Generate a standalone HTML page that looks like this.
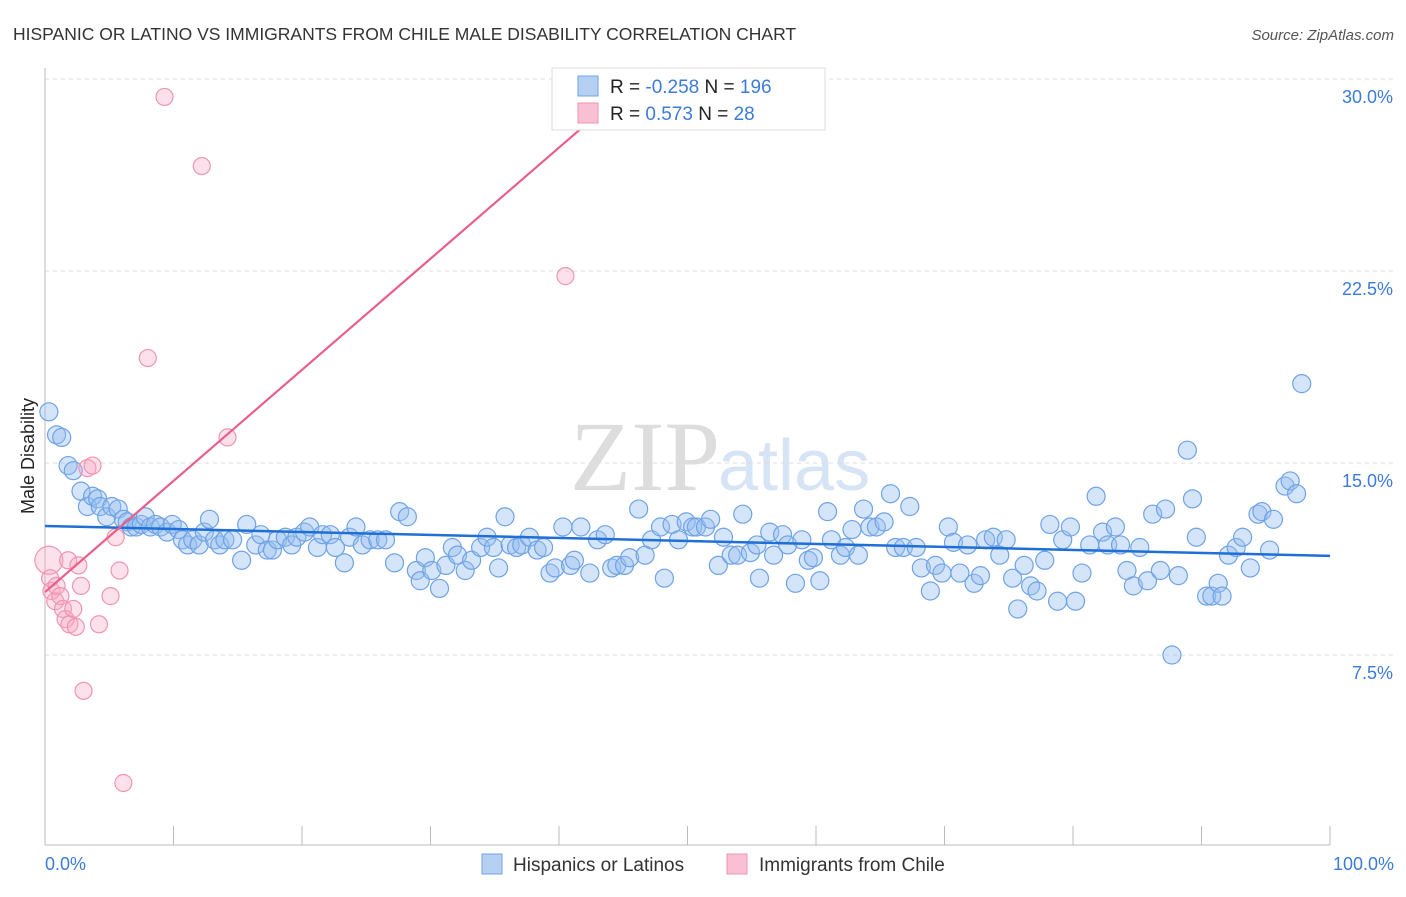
<!DOCTYPE html>
<html><head><meta charset="utf-8"><style>
body{margin:0;background:#fff;font-family:"Liberation Sans",sans-serif;}
</style></head><body>
<svg width="1406" height="892" viewBox="0 0 1406 892">
<text x="13" y="40" font-size="17.5" fill="#333">HISPANIC OR LATINO VS IMMIGRANTS FROM CHILE MALE DISABILITY CORRELATION CHART</text>
<text x="1394" y="40" font-size="15" fill="#555" font-style="italic" text-anchor="end">Source: ZipAtlas.com</text>
<text x="720" y="490" font-size="100" fill="#ddd" font-family="Liberation Serif" text-anchor="end">ZIP</text>
<text x="718" y="490" font-size="72" fill="#d6e4f5">atlas</text>
<g id="grid"></g>
<g id="axes"></g>
<g id="marks"></g>
<text transform="translate(34,456) rotate(-90)" font-size="18" fill="#222" text-anchor="middle">Male Disability</text>
<text x="45" y="870" font-size="18" fill="#3d7bd9">0.0%</text>
<text x="1394" y="870" font-size="18" fill="#3d7bd9" text-anchor="end">100.0%</text>
<g>
<rect x="552" y="68" width="273" height="62" fill="#fff" stroke="#ddd"/>
<rect x="578" y="76" width="20" height="20" fill="#b5d0f3" stroke="#6fa3e6"/>
<rect x="578" y="103" width="20" height="20" fill="#f8c0d2" stroke="#ee95b3"/>
<text x="610" y="93" font-size="19" fill="#222">R = <tspan fill="#3d7bd9">-0.258</tspan>   N = <tspan fill="#3d7bd9">196</tspan></text>
<text x="610" y="120" font-size="19" fill="#222">R =   <tspan fill="#3d7bd9">0.573</tspan>   N =   <tspan fill="#3d7bd9">28</tspan></text>
</g>
<g>
<rect x="482" y="854" width="20" height="20" fill="#b5d0f3" stroke="#6fa3e6"/>
<text x="513" y="871" font-size="19" fill="#333">Hispanics or Latinos</text>
<rect x="727" y="854" width="20" height="20" fill="#f8c0d2" stroke="#ee95b3"/>
<text x="759" y="871" font-size="19" fill="#333">Immigrants from Chile</text>
</g>
</svg>
<script>
const yTicks=[7.5,15,22.5,30];
const yTickLabels=["7.5%","15.0%","22.5%","30.0%"];
const xTicks=[0,10,20,30,40,50,60,70,80,90,100];
const blueX=[.3,.9,1.3,1.8,2.2,2.8,3.3,3.7,4.1,4.3,4.8,5.2,5.7,6.1,6.4,6.7,7.1,7.5,7.8,8.2,8.6,9.0,9.5,9.9,10.4,10.7,11.1,11.5,12.0,12.4,12.8,13.2,13.6,14.0,14.6,15.3,15.7,16.4,16.8,17.3,17.7,18.1,18.7,19.2,19.6,20.2,20.6,21.2,21.6,22.2,22.6,23.3,23.7,24.2,24.7,25.3,25.9,26.5,27.2,27.6,28.2,28.9,29.2,29.6,30.1,30.7,31.2,31.7,32.1,32.7,33.2,33.9,34.4,34.9,35.3,35.8,36.2,36.7,37.1,37.7,38.3,38.8,39.3,39.7,40.3,40.9,41.2,41.7,42.4,43.0,43.6,44.1,44.5,45.1,45.5,46.2,46.7,47.2,47.9,48.2,48.8,49.3,49.9,50.4,50.7,51.4,51.8,52.4,52.8,53.4,53.9,54.3,54.9,55.4,55.6,56.4,56.7,57.4,57.8,58.4,58.9,59.4,59.8,60.3,60.9,61.2,61.9,62.3,62.8,63.3,63.7,64.2,64.7,65.3,65.8,66.2,66.8,67.3,67.8,68.2,68.9,69.3,69.8,70.3,70.7,71.2,71.8,72.3,72.8,73.2,73.8,74.3,74.8,75.3,75.7,76.2,76.7,77.2,77.8,78.2,78.8,79.2,79.8,80.2,80.7,81.3,81.8,82.3,82.7,83.3,83.7,84.2,84.7,85.2,85.8,86.2,86.8,87.2,87.7,88.2,88.9,89.3,89.6,90.4,90.8,91.3,91.6,92.1,92.7,93.2,93.8,94.4,94.7,95.3,95.6,96.5,96.9,97.4,97.8];
const blueY=[17.0,16.1,16.0,14.9,14.7,13.9,13.3,13.7,13.6,13.3,12.9,13.3,13.2,12.8,12.7,12.5,12.5,12.6,12.9,12.5,12.6,12.5,12.3,12.6,12.4,12.0,11.8,12.0,11.8,12.3,12.8,12.0,11.8,12.0,12.0,11.2,12.6,11.8,12.2,11.6,11.6,12.0,12.1,11.8,12.1,12.3,12.5,11.7,12.2,12.2,11.7,11.1,12.1,12.5,11.8,12.0,12.0,12.0,11.1,13.1,12.9,10.8,10.4,11.3,10.8,10.1,11.0,11.7,11.4,10.8,11.2,11.7,12.1,11.7,10.9,12.9,11.8,11.7,11.8,12.1,11.6,11.7,10.7,10.9,12.5,11.0,11.2,12.5,10.7,12.0,12.2,10.9,11.0,11.0,11.3,13.2,11.4,12.0,12.5,10.5,12.6,12.0,12.7,12.5,12.5,12.5,12.8,11.0,12.1,11.4,11.4,13.0,11.5,11.8,10.5,12.3,11.4,12.2,11.8,10.3,12.0,11.2,11.3,10.4,13.1,12.0,11.4,11.7,12.4,11.4,13.2,12.5,12.5,12.7,13.8,11.7,11.7,13.3,11.7,10.9,10.0,11.0,10.7,12.5,11.9,10.7,11.8,10.3,10.6,12.0,12.1,11.4,12.0,10.5,9.3,11.0,10.2,10.0,11.2,12.6,9.6,12.0,12.5,9.6,10.7,11.8,13.7,12.3,11.8,12.5,11.8,10.8,10.2,11.7,10.4,13.0,10.8,13.2,7.5,10.6,15.5,13.6,12.1,9.8,9.8,10.3,9.8,11.4,11.7,12.1,10.9,13.0,13.1,11.6,12.8,14.1,14.3,13.8,18.1];
const pinkX=[.3,.4,.5,.8,.9,1.2,1.4,1.6,1.8,1.9,2.2,2.4,2.6,2.8,3.0,3.3,3.7,4.2,5.1,5.5,5.8,6.1,8.0,9.3,12.2,14.2,40.5];
const pinkY=[11.2,10.5,10.0,9.6,10.2,9.8,9.3,8.9,11.2,8.7,9.3,8.6,11.0,10.2,6.1,14.8,14.9,8.7,9.8,12.1,10.8,2.5,19.1,29.3,26.6,16.0,22.3];
const blueFit=[12.54,-0.0117];
const pinkFit=[9.96,0.434];
const NS='http://www.w3.org/2000/svg';
const X0=45,X1=1330,Y0=847,PPY=25.6;
const sx=v=>X0+(X1-X0)*v/100, sy=v=>Y0-v*PPY;
function mk(tag,attrs,parent){const e=document.createElementNS(NS,tag);for(const k in attrs)e.setAttribute(k,attrs[k]);parent.appendChild(e);return e;}
const grid=document.getElementById('grid'),axes=document.getElementById('axes'),marks=document.getElementById('marks');
yTicks.forEach((t,i)=>{
 const l=mk('line',{x1:X0,x2:1394,y1:sy(t),y2:sy(t),stroke:'#ddd','stroke-dasharray':'4,4'},grid);
 
 
 const tx=mk('text',{x:1393,y:sy(t)+24,'font-size':18,fill:'#3d7bd9','text-anchor':'end'},grid);
 tx.textContent=yTickLabels[i];
 
 
});
const ax=mk('line',{x1:X0,x2:X0,y1:68,y2:845,stroke:'#bbb'},axes);


const bx=mk('line',{x1:X0,x2:X1,y1:845,y2:845,stroke:'#bbb'},axes);


xTicks.forEach(t=>{
 const l=mk('line',{x1:sx(t),x2:sx(t),y1:826,y2:845,stroke:'#bbb'},axes);
 
 
});
blueX.forEach((v,i)=>{
 const c=mk('circle',{cx:sx(v),cy:sy(blueY[i]),r:9,fill:'rgba(150,190,240,0.4)',stroke:'#6fa3e6','stroke-width':1.2},marks);
 
 
});
pinkX.forEach((v,i)=>{
 const c=mk('circle',{cx:sx(v),cy:sy(pinkY[i]),r:i==0?14:8.5,fill:'rgba(245,170,195,0.35)',stroke:'#ee95b3','stroke-width':1.2},marks);
 
 
});
const bl=mk('line',{x1:sx(0),y1:sy(blueFit[0]),x2:sx(100),y2:sy(blueFit[0]+blueFit[1]*100),stroke:'#1f6fd6','stroke-width':2.5},marks);


const pEnd=(30-pinkFit[0])/pinkFit[1];
const pl=mk('line',{x1:sx(0),y1:sy(pinkFit[0]),x2:sx(pEnd),y2:sy(30),stroke:'#e8608a','stroke-width':2.2},marks);


</script>
</body></html>
